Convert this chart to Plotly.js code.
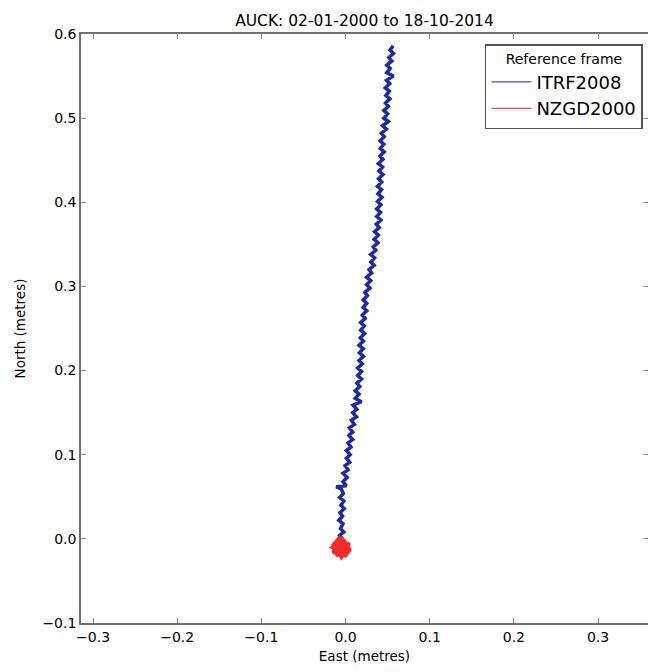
<!DOCTYPE html>
<html>
<head>
<meta charset="utf-8">
<script src="https://cdn.plot.ly/plotly-3.0.1.min.js"></script>
<style>html,body{margin:0;padding:0;background:#fff;}#chart{width:648px;height:672px;}</style>
</head>
<body>
<div id="chart"></div>
<script>
// ITRF2008 positions (East, North in metres)
const itrfEast = [
  -0.003,-0.007,-0.002,-0.006,-0.003,-0.008,-0.0035,-0.0065,-0.0015,-0.0055,
  -0.002,-0.007,-0.0025,-0.005,-0.011,0.001,-0.003,0.002,-0.003,0.003,
  -0.0005,0.005,0.001,0.0055,0.001,0.0065,0.003,0.0085,0.004,0.0085,
  0.0045,0.0105,0.007,0.013,0.0085,0.0135,0.009,0.019,0.0115,0.016,
  0.0115,0.017,0.0135,0.019,0.0145,0.019,0.0145,0.020,0.016,0.0213,
  0.0165,0.021,0.016,0.0213,0.0175,0.0228,0.018,0.0223,0.018,0.0233,
  0.020,0.0253,0.021,0.0253,0.021,0.026,0.023,0.029,0.025,0.030,
  0.025,0.031,0.028,0.034,0.030,0.0345,0.030,0.036,0.033,0.0385,
  0.034,0.039,0.0345,0.040,0.0365,0.042,0.037,0.0415,0.037,0.042,
  0.038,0.0433,0.0385,0.0428,0.038,0.043,0.0392,0.0445,0.0397,0.044,
  0.039,0.0445,0.041,0.046,0.0413,0.0455,0.041,0.046,0.0425,0.0485,
  0.044,0.051,0.0455,0.050,0.0455,0.051,0.0475,0.0527,0.048,0.052,
  0.0473,0.0525,0.0487,0.057,0.049,0.053,0.049,0.055,0.0515,0.057,
  0.053,0.0566
];
const itrfNorth = [
  -0.002,0.004,0.008,0.012,0.018,0.022,0.027,0.031,0.036,0.040,
  0.045,0.049,0.054,0.059,0.062,0.063,0.068,0.073,0.078,0.082,
  0.087,0.091,0.096,0.100,0.105,0.109,0.114,0.118,0.123,0.127,
  0.132,0.136,0.141,0.145,0.150,0.154,0.159,0.163,0.167,0.172,
  0.176,0.181,0.185,0.190,0.194,0.199,0.203,0.208,0.212,0.217,
  0.221,0.226,0.230,0.235,0.239,0.244,0.248,0.253,0.257,0.262,
  0.266,0.271,0.275,0.280,0.284,0.289,0.293,0.298,0.302,0.307,
  0.311,0.316,0.320,0.325,0.329,0.334,0.338,0.343,0.347,0.352,
  0.356,0.361,0.365,0.370,0.374,0.379,0.383,0.388,0.392,0.397,
  0.401,0.406,0.410,0.415,0.419,0.424,0.428,0.433,0.437,0.442,
  0.446,0.451,0.455,0.460,0.464,0.469,0.473,0.478,0.482,0.487,
  0.491,0.496,0.500,0.505,0.509,0.514,0.518,0.523,0.527,0.532,
  0.536,0.541,0.545,0.550,0.554,0.559,0.563,0.568,0.572,0.577,
  0.581,0.586
];
// NZGD2000 positions (East, North in metres)
const nzgdEast = [
  -0.004,-0.013,0.004,-0.010,0.005,-0.015,-0.001,-0.011,0.006,-0.007,
  -0.016,0.001,-0.009,0.003,-0.012,-0.004,0.002,-0.014,-0.003,-0.015,
  0.005,-0.007,0.000,-0.013,-0.005,0.003,-0.010,-0.002,-0.011,-0.004
];
const nzgdNorth = [
  -0.010,-0.002,-0.018,0.001,-0.007,-0.017,-0.001,-0.020,-0.013,-0.003,
  -0.010,-0.021,0.002,-0.015,-0.009,-0.005,-0.019,-0.007,0.002,-0.016,
  -0.005,-0.013,-0.002,-0.006,-0.022,-0.010,-0.015,-0.007,-0.003,-0.012
];
const xTicks = [-0.3,-0.2,-0.1,0.0,0.1,0.2,0.3];
const yTicks = [-0.1,0.0,0.1,0.2,0.3,0.4,0.5,0.6];
const fmt = v => (v < 0 ? '\u2212' : '') + Math.abs(v).toFixed(1);

const font = 'DejaVu Sans, sans-serif';
const traces = [
  {x: itrfEast, y: itrfNorth, type: 'scatter', mode: 'lines', name: 'ITRF2008', showlegend: false,
   line: {color: '#1f2a9e', width: 3.5}},
  {x: nzgdEast, y: nzgdNorth, type: 'scatter', mode: 'lines', name: 'NZGD2000', showlegend: false,
   line: {color: '#f02c2c', width: 3.5}},
  // legend-only entries (thin sample lines as in the reference)
  {x: [null], y: [null], type: 'scatter', mode: 'lines', name: 'ITRF2008', line: {color: '#4a4ac8', width: 1.3}},
  {x: [null], y: [null], type: 'scatter', mode: 'lines', name: 'NZGD2000', line: {color: '#ff4a4a', width: 1.3}}
];
const axisCommon = {
  showgrid: false, zeroline: false, showline: true, linecolor: '#707070', linewidth: 1.8,
  mirror: 'ticks', ticks: 'inside', ticklen: 5, tickcolor: '#888', tickwidth: 1,
  tickfont: {family: font, size: 14, color: '#000'}
};
const layout = {
  width: 648, height: 672,
  margin: {l: 81, r: 0, t: 34, b: 49},
  paper_bgcolor: '#fff', plot_bgcolor: '#fff',
  title: {text: 'AUCK: 02-01-2000 to 18-10-2014', font: {family: font, size: 15.5, color: '#000'},
          x: 0.5625, xanchor: 'center', y: 0.97, yanchor: 'middle'},
  xaxis: Object.assign({}, axisCommon, {
    range: [-0.3143, 0.3594], tickvals: xTicks, ticktext: xTicks.map(fmt),
    title: {text: 'East (metres)', font: {family: font, size: 13.5, color: '#000'}, standoff: 8}
  }),
  yaxis: Object.assign({}, axisCommon, {
    range: [-0.1, 0.6], tickvals: yTicks, ticktext: yTicks.map(fmt),
    title: {text: 'North (metres)', font: {family: font, size: 13.5, color: '#000'}, standoff: 14}
  }),
  showlegend: true,
  legend: {
    x: 0.991, xanchor: 'right', y: 0.983, yanchor: 'top',
    bgcolor: '#fff', bordercolor: '#555', borderwidth: 1.5,
    font: {family: font, size: 18, color: '#000'},
    title: {text: 'Reference frame', font: {family: font, size: 14, color: '#000'}, side: 'top center'},
    itemwidth: 40, tracegroupgap: 0
  }
};
Plotly.newPlot('chart', traces, layout, {displayModeBar: false, staticPlot: true});
</script>
</body>
</html>
